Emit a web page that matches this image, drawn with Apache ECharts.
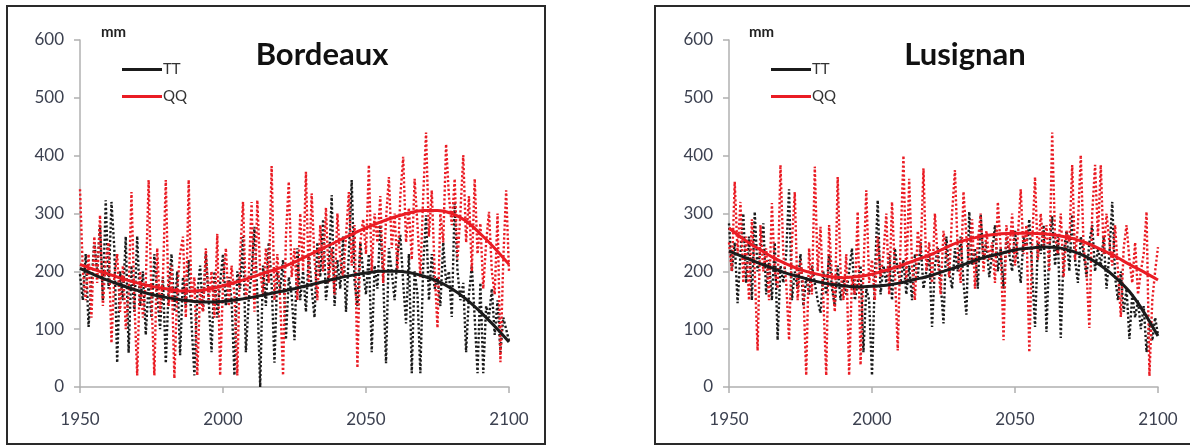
<!DOCTYPE html>
<html>
<head>
<meta charset="utf-8">
<script src="https://cdn.jsdelivr.net/npm/echarts@6/dist/echarts.min.js"></script>
<style>html,body{margin:0;padding:0;background:#fff}#c{width:1190px;height:446px}</style>
</head>
<body>
<div id="c"></div>
<script>
// ---- data ----
const startYear = 1950;
const endYear = 2100;
const xTicks = [1950, 2000, 2050, 2100];
const yTicks = [0, 100, 200, 300, 400, 500, 600];
const panelTitles = ['Bordeaux', 'Lusignan'];
const seriesNames = ['TT', 'QQ'];
const unitLabel = 'mm';

const bordeauxTT = [
  195,150,230,104,180,250,200,280,150,323,
  170,320,240,42,200,150,260,59,210,130,
  261,140,200,90,180,120,230,160,100,190,
  41,170,230,130,200,55,190,140,220,110,
  20,160,210,130,230,150,60,200,120,180,
  230,140,190,150,20,200,170,260,60,150,
  200,277,160,0,210,140,250,180,42,200,
  170,220,82,190,160,81,240,150,200,130,
  230,170,120,250,190,290,150,200,332,140,
  220,170,260,130,230,358,180,140,250,200,
  160,230,60,210,170,280,190,41,240,200,
  150,230,263,180,110,230,24,200,160,24,
  210,297,150,230,170,190,140,250,180,200,
  121,318,200,150,180,60,160,210,120,24,
  180,24,140,120,170,90,150,60,120,100,
  80
];
const bordeauxQQ = [
  342,200,150,230,120,260,180,297,140,220,
  250,76,190,230,130,210,100,160,337,150,
  20,200,120,180,358,150,20,240,130,190,
  358,140,210,15,170,230,260,120,358,150,
  190,20,170,130,240,150,200,120,265,20,
  180,240,140,210,160,20,230,320,150,190,
  320,130,323,200,160,240,180,382,150,230,
  150,20,260,355,190,240,150,300,200,372,
  180,335,220,150,280,200,310,180,240,160,
  300,220,190,260,337,210,280,33,250,290,
  230,384,200,300,250,330,180,290,363,240,
  300,200,330,398,250,310,220,360,280,190,
  330,440,260,340,200,102,300,250,420,330,
  280,360,220,300,401,250,330,200,360,230,
  283,170,250,303,200,160,300,43,220,340,
  200
];
const lusignanTT = [
  283,200,250,145,230,300,180,260,150,303,
  200,240,283,160,220,150,250,81,210,180,
  230,342,150,200,170,230,140,190,160,210,
  180,150,128,200,160,230,170,140,210,150,
  190,160,200,240,150,180,210,60,170,150,
  20,190,323,160,210,180,230,150,240,200,
  180,220,160,210,150,230,190,250,170,200,
  230,104,210,240,180,110,260,200,170,240,
  200,260,180,125,303,210,240,170,298,220,
  250,190,230,280,200,240,170,260,230,200,
  270,220,180,260,240,290,200,104,250,230,
  280,95,240,295,210,260,85,230,270,200,
  298,220,180,260,230,190,250,280,200,240,
  210,260,170,230,320,190,150,200,130,170,
  83,160,120,150,100,140,60,110,80,120,
  90
];
const lusignanQQ = [
  250,200,355,230,320,180,260,150,290,200,
  63,280,200,240,150,318,200,170,384,230,
  180,81,250,337,150,220,170,20,240,160,
  381,200,277,150,20,280,190,130,363,200,
  150,230,20,190,160,303,38,200,340,180,
  220,150,260,190,230,300,160,320,200,63,
  250,400,180,360,210,150,270,230,378,200,
  250,180,300,220,160,270,230,190,300,375,
  230,180,338,260,210,290,170,250,300,200,
  270,220,250,180,320,240,81,280,230,300,
  210,260,342,230,280,60,250,363,220,300,
  240,280,200,440,260,230,300,190,270,250,
  384,220,280,401,240,200,102,300,384,260,
  384,230,300,250,210,280,200,121,240,280,
  220,180,250,160,200,230,303,19,150,200,
  242
];

// smooth trend curves read every 5 years
const trendYears = [1950,1955,1960,1965,1970,1975,1980,1985,1990,1995,2000,2005,2010,2015,2020,2025,
                    2030,2035,2040,2045,2050,2055,2060,2065,2070,2075,2080,2085,2090,2095,2100];
const bordeauxTTtrend = [205,194,184,175,167,160,155,151,148,147,148,151,155,160,165,170,
                         176,182,188,193,197,200,200,198,192,183,170,152,130,105,78];
const bordeauxQQtrend = [212,203,195,187,180,174,170,166,166,169,175,182,190,198,206,216,
                         228,240,252,264,275,285,294,301,305,305,300,287,265,240,212];
const lusignanTTtrend = [235,225,215,206,197,190,183,178,175,173,174,176,180,186,192,200,
                         208,217,225,231,237,240,242,241,235,225,210,190,165,130,88];
const lusignanQQtrend = [275,256,240,225,213,203,196,191,189,191,195,202,210,219,228,239,
                         250,257,262,265,266,266,265,262,257,249,238,226,212,199,185];

// ---- build ----
const years = [];
for (let y = startYear; y <= endYear; y++) years.push(y);
const pairs = (xs, vs) => vs.map((v, i) => [xs[i], v]);

const FONT = 'Lato, "Liberation Sans", sans-serif';
const BLACK = '#1b1b1b';
const RED = '#ea1c24';
const AXIS = '#b0b0b0';
const LABEL = '#3c4150';

const grids = [
  { left: 80, top: 40, width: 429, height: 347 },
  { left: 729, top: 40, width: 429, height: 347 }
];

function xAxisFor(i) {
  return {
    type: 'value', gridIndex: i, min: startYear, max: endYear, interval: 50,
    axisLine: { show: true, lineStyle: { color: AXIS, width: 1.5 } },
    axisTick: { show: true, length: 6, lineStyle: { color: AXIS, width: 1.5 } },
    splitLine: { show: false },
    axisLabel: { margin: 24, fontSize: 17, color: LABEL, fontFamily: FONT,
                 formatter: v => String(v) }
  };
}
function yAxisFor(i) {
  return {
    type: 'value', gridIndex: i, min: 0, max: 600, interval: 100,
    axisLine: { show: true, lineStyle: { color: AXIS, width: 1.5 } },
    axisTick: { show: true, length: 6, lineStyle: { color: AXIS, width: 1.5 } },
    splitLine: { show: false },
    axisLabel: { margin: 16, fontSize: 17, color: LABEL, fontFamily: FONT }
  };
}

function dotted(name, i, vals, color, z) {
  return {
    name: name, type: 'line', xAxisIndex: i, yAxisIndex: i,
    data: pairs(years, vals), showSymbol: false, symbol: 'none', z: z,
    lineStyle: { color: color, width: 2.4, type: [2.2, 2.2], cap: 'butt' },
    itemStyle: { color: color }, silent: true, animation: false
  };
}
function trend(name, i, vals, color, z) {
  return {
    name: name, type: 'line', xAxisIndex: i, yAxisIndex: i,
    data: pairs(trendYears, vals), smooth: 0.3, showSymbol: false, symbol: 'none', z: z,
    lineStyle: { color: color, width: 3 }, itemStyle: { color: color }, animation: false
  };
}

const panels = [
  [bordeauxTT, bordeauxQQ, bordeauxTTtrend, bordeauxQQtrend],
  [lusignanTT, lusignanQQ, lusignanTTtrend, lusignanQQtrend]
];
const series = [];
panels.forEach((p, i) => {
  series.push(dotted(seriesNames[0] + ' annuel ' + i, i, p[0], BLACK, 2));
  series.push(dotted(seriesNames[1] + ' annuel ' + i, i, p[1], RED, 3));
  series.push(trend(seriesNames[0], i, p[2], BLACK, 5));
  series.push(trend(seriesNames[1], i, p[3], RED, 6));
});

const legends = [117, 766].map(x => ({
  data: seriesNames, left: x, top: 57, orient: 'vertical', itemGap: 12,
  icon: 'rect', itemWidth: 40, itemHeight: 3,
  textStyle: { fontFamily: FONT, fontSize: 15, color: '#333', padding: [0, 0, 0, -4] },
  selectedMode: false
}));

const titles = [];
[317, 960].forEach((cx, i) => {
  titles.push({ text: panelTitles[i], left: cx, top: 34, textAlign: 'center',
    textStyle: { fontFamily: FONT, fontSize: 31, fontWeight: 'bold', color: '#111' } });
});
[96, 744].forEach(x => {
  titles.push({ text: unitLabel, left: x, top: 20,
    textStyle: { fontFamily: FONT, fontSize: 15, fontWeight: 'bold', color: '#222' } });
});

const chart = echarts.init(document.getElementById('c'), null, { renderer: 'canvas' });
chart.setOption({
  animation: false,
  backgroundColor: '#fff',
  grid: grids,
  xAxis: [xAxisFor(0), xAxisFor(1)],
  yAxis: [yAxisFor(0), yAxisFor(1)],
  title: titles,
  legend: legends,
  series: series,
  graphic: [
    { type: 'rect', shape: { x: 7, y: 6, width: 538, height: 438 },
      style: { fill: 'none', stroke: '#2a2a2a', lineWidth: 2 }, silent: true },
    { type: 'rect', shape: { x: 655, y: 6, width: 560, height: 438 },
      style: { fill: 'none', stroke: '#2a2a2a', lineWidth: 2 }, silent: true }
  ]
});
</script>
</body>
</html>
